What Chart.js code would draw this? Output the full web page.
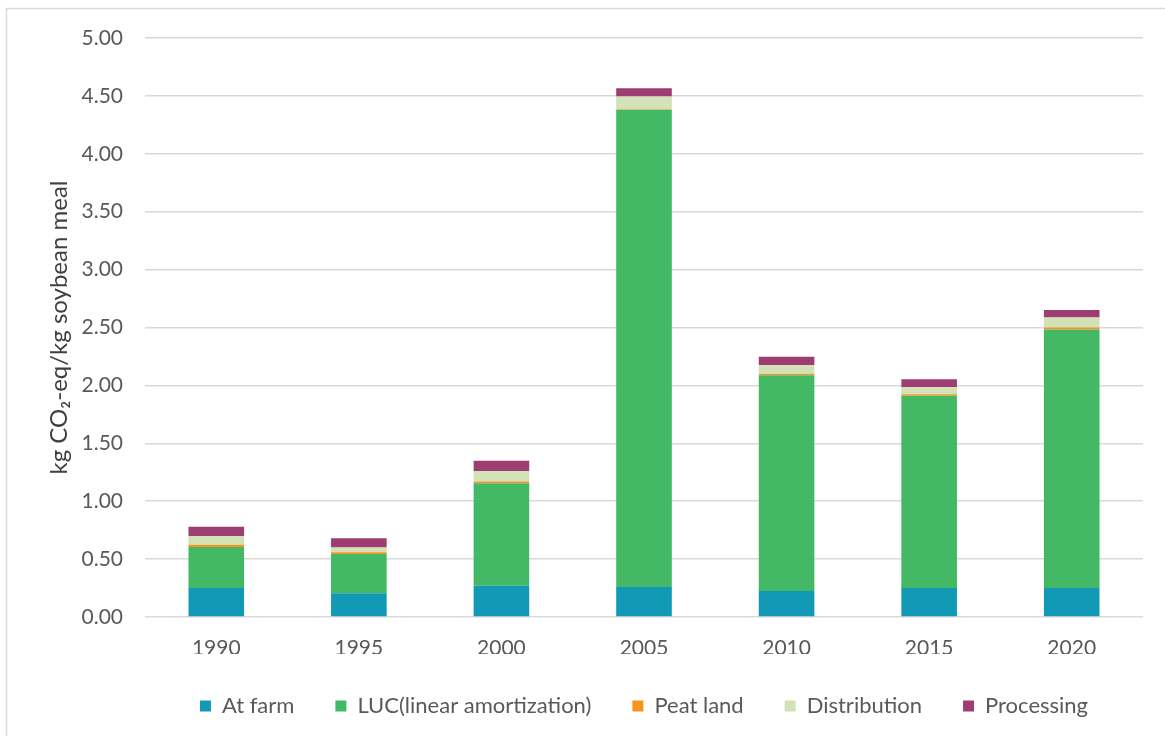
<!DOCTYPE html>
<html>
<head>
<meta charset="utf-8">
<script src="https://cdn.jsdelivr.net/npm/chart.js@4/dist/chart.umd.min.js"></script>
<style>
  html, body { margin: 0; padding: 0; background: #fff; overflow: hidden; }
  #wrap { width: 1165px; height: 736px; }
</style>
</head>
<body>
<div id="wrap"><canvas id="chart" width="1165" height="736"></canvas></div>
<script>
const years = ['1990', '1995', '2000', '2005', '2010', '2015', '2020'];
const atFarm = [0.25, 0.205, 0.27, 0.26, 0.225, 0.25, 0.25];
const luc = [0.355, 0.34, 0.885, 4.12, 1.863, 1.66, 2.232];
const peatLand = [0.02, 0.015, 0.015, 0.005, 0.012, 0.014, 0.017];
const distribution = [0.075, 0.04, 0.09, 0.11, 0.077, 0.061, 0.087];
const processing = [0.08, 0.08, 0.09, 0.07, 0.07, 0.069, 0.066];

const textColor = '#595959';
const gridColor = '#d9d9d9';
const fontFamily = 'Lato, "Open Sans", sans-serif';

// light frame round the chart, like the Excel chart area
const framePlugin = {
  id: 'frame',
  beforeDraw(chart) {
    const ctx = chart.ctx;
    ctx.save();
    ctx.fillStyle = '#fff';
    ctx.fillRect(0, 0, chart.width, chart.height);
    ctx.strokeStyle = gridColor;
    ctx.lineWidth = 1.5;
    ctx.beginPath();
    ctx.moveTo(6.5, chart.height);
    ctx.lineTo(6.5, 8.5);
    ctx.lineTo(chart.width, 8.5);
    ctx.stroke();
    ctx.restore();
  }
};

// centre the legend under the plot area instead of the whole canvas
const legendShift = {
  id: 'legendShift',
  afterLayout(chart) {
    const lg = chart.legend;
    if (!lg) return;
    lg.left = chart.chartArea.left;
    lg.right = chart.chartArea.right;
  }
};

function ds(label, data, color) {
  return {
    label: label,
    data: data,
    backgroundColor: color,
    borderWidth: 0,
    categoryPercentage: 1,
    barPercentage: 0.39
  };
}

new Chart(document.getElementById('chart'), {
  type: 'bar',
  data: {
    labels: years,
    datasets: [
      ds('At farm', atFarm, '#1199b5'),
      ds('LUC(linear amortization)', luc, '#43b865'),
      ds('Peat land', peatLand, '#f7941d'),
      ds('Distribution', distribution, '#d3e2b6'),
      ds('Processing', processing, '#9e3d72')
    ]
  },
  options: {
    responsive: false,
    animation: false,
    layout: { padding: { top: 38, right: 22, bottom: 9, left: 0 } },
    plugins: {
      tooltip: { enabled: false },
      legend: {
        position: 'bottom',
        maxHeight: 83,
        labels: {
          boxWidth: 11,
          boxHeight: 11,
          padding: 41,
          color: textColor,
          font: { family: fontFamily, size: 22 }
        }
      }
    },
    scales: {
      x: {
        stacked: true,
        grid: { display: false, drawTicks: false },
        border: { display: false },
        ticks: { color: textColor, padding: 19, font: { family: fontFamily, size: 21 } },
        afterFit(scale) { scale.height = 37; }
      },
      y: {
        stacked: true,
        min: 0,
        max: 5,
        grid: { color: gridColor, lineWidth: 1.5, drawTicks: false },
        border: { display: false },
        ticks: {
          stepSize: 0.5,
          color: textColor,
          padding: 22,
          font: { family: fontFamily, size: 21 },
          callback: v => v.toFixed(2)
        },
        title: {
          display: true,
          text: 'kg CO₂-eq/kg soybean meal',
          color: '#404040',
          padding: { top: 45, bottom: 0 },
          font: { family: fontFamily, size: 24 }
        },
        afterFit(scale) { scale.width = 145; }
      }
    }
  },
  plugins: [framePlugin, legendShift]
});
</script>
</body>
</html>
